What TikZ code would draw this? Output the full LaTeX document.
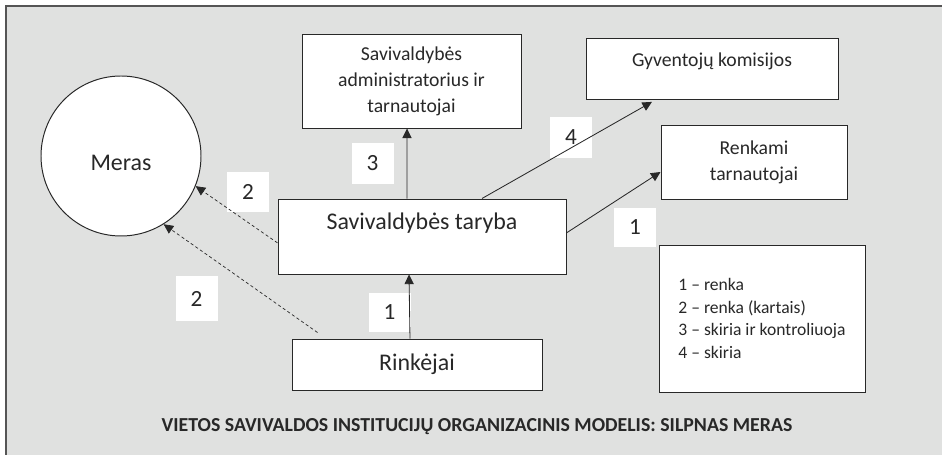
\documentclass[tikz,border=0pt]{standalone}
\usepackage{fontspec}
\setmainfont{Carlito}
\usetikzlibrary{
  arrows.meta,
  backgrounds
}
\definecolor{panelgray}{RGB}{224,225,224}
\definecolor{ink}{RGB}{40,40,40}
\definecolor{rim}{RGB}{85,85,85}
\tikzset{
  flow/.style={-{Triangle[length=2.4mm,width=2.3mm]},line width=.6pt,draw=ink},
  dash flow/.style={flow,dash pattern=on 2.2pt off 1.8pt,line width=.5pt},
  box/.style={
    draw=ink,
    fill=white,
    line width=.7pt,
    align=center,
    text=ink,
    inner sep=2pt
  },
  numbox/.style={
    fill=white,
    text=ink,
    minimum width=1.05cm,
    minimum height=1.02cm,
    font=\fontsize{16.5}{20}\selectfont
  },
  bigtext/.style={font=\fontsize{17}{20}\selectfont},
  midtext/.style={font=\fontsize{14}{18.4}\selectfont}
}

\begin{document}
\begin{tikzpicture}
  \useasboundingbox (0,0) rectangle (23.55,11.375);

  \node[box,circle,minimum size=4cm,inner sep=0pt,bigtext,text height=.74cm]
    (meras) at (3.025,7.475) {Meras};
  \node[box,minimum width=5.475cm,minimum height=2.35cm,midtext]
    (admin) at (10.2875,9.35) {Savivaldybės\\administratorius ir\\tarnautojai};
  \node[box,minimum width=6.3cm,minimum height=1.525cm,midtext,text depth=.44cm]
    (komisijos) at (17.8,9.6625) {Gyventojų komisijos};
  \node[box,minimum width=4.65cm,minimum height=1.85cm,midtext]
    (renkami) at (18.85,7.325) {Renkami\\tarnautojai};
  \node[box,minimum width=7.2cm,minimum height=1.875cm,bigtext,text depth=.78cm]
    (taryba) at (10.55,5.4625) {Savivaldybės taryba};
  \node[box,minimum width=6.25cm,minimum height=1.275cm,bigtext]
    (rinkejai) at (10.425,2.2625) {Rinkėjai};
  \node[box,align=left,minimum width=5.15cm,minimum height=3.675cm,
    font=\fontsize{12.5}{16.3}\selectfont]
    (legend) at (19.05,3.4125)
    {1 – renka\\2 – renka (kartais)\\3 – skiria ir kontroliuoja\\4 – skiria};

  \node[numbox] (n3) at (9.3125,7.2875) {3};
  \node[numbox] (n4) at (14.275,7.9375) {4};
  \node[numbox] (n2a) at (6.2,6.575) {2};
  \node[numbox,minimum height=1.12cm] (n2b) at (4.9125,3.9125) {2};
  \node[numbox,minimum height=.98cm] (n1a) at (15.875,5.6875) {1};
  \node[numbox,minimum height=.98cm] (n1b) at (9.7375,3.5625) {1};

  \draw[flow] ([xshift=-1.75mm]rinkejai.north) -- ([xshift=-3.25mm]taryba.south);
  \draw[flow] ([xshift=-3.75mm]taryba.north) -- ([xshift=-1.12mm]admin.south);
  \draw[flow] ([xshift=1.5cm]taryba.north) -- ([xshift=-1.5cm,yshift=-.6mm]komisijos.south);
  \draw[flow] ([yshift=.9mm]taryba.east) -- ([yshift=-2.5mm]renkami.west);
  \draw[dash flow] ([yshift=-1.6mm]taryba.west) -- (meras.-22);
  \draw[dash flow] ([xshift=6.5mm,yshift=1.5mm]rinkejai.north west) -- (meras.-58);

  \node[font=\bfseries\fontsize{14.1}{16}\selectfont,text=ink] (title) at (11.925,.7)
    {VIETOS SAVIVALDOS INSTITUCIJŲ ORGANIZACINIS MODELIS: SILPNAS MERAS};

  \begin{scope}[on background layer]
    \fill[panelgray] (.15,0) rectangle (23.55,11.225);
    \draw[rim,line width=1.1pt] (.15,0) -- (.15,11.225) -- (23.55,11.225);
  \end{scope}
\end{tikzpicture}
\end{document}
